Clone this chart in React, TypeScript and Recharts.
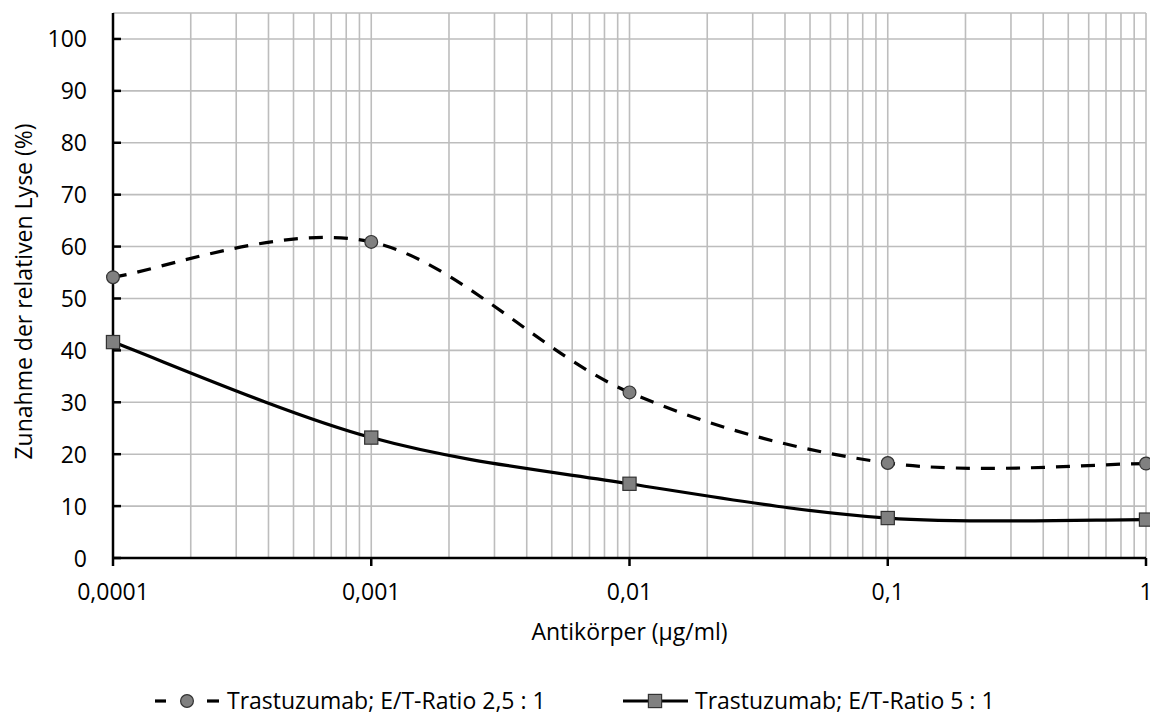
import React from 'react';
import { LineChart, Line, XAxis, YAxis, CartesianGrid, ReferenceLine } from 'recharts';

// ---- data ----
const X_VALUES = [0.0001, 0.001, 0.01, 0.1, 1];
const SERIES_25 = [54.1, 60.9, 31.9, 18.3, 18.2];
const SERIES_5 = [41.6, 23.2, 14.3, 7.7, 7.4];
const SERIES_NAMES = ['Trastuzumab; E/T-Ratio 2,5 : 1', 'Trastuzumab; E/T-Ratio 5 : 1'];
const X_TICKS = [0.0001, 0.001, 0.01, 0.1, 1];
const X_TICK_LABELS = ['0,0001', '0,001', '0,01', '0,1', '1'];
const Y_TICKS = [0, 10, 20, 30, 40, 50, 60, 70, 80, 90, 100];
const DECADES = [0.0001, 0.001, 0.01, 0.1];
const MINOR_STEPS = [1, 2, 3, 4, 5, 6, 7, 8, 9];
const X_TITLE = 'Antikörper (µg/ml)';
const Y_TITLE = 'Zunahme der relativen Lyse (%)';

const data = X_VALUES.map((x, i) => ({ x, a: SERIES_25[i], b: SERIES_5[i] }));
const gridX: number[] = [];
DECADES.forEach((d) => MINOR_STEPS.forEach((m) => { if (!(d === DECADES[0] && m === 1)) gridX.push(d * m); }));
gridX.push(1);

const FONT = '"Open Sans", sans-serif';
const FS = 23;
const TXT = '#000';
const GRID = '#bdbdbd';

// Excel-like smoothing (Catmull-Rom through points)
const excelSmooth: any = (context: any) => {
  let xs: number[] = [];
  let ys: number[] = [];
  return {
    areaStart() {},
    areaEnd() {},
    lineStart() { xs = []; ys = []; },
    point(x: number, y: number) { xs.push(+x); ys.push(+y); },
    lineEnd() {
      const n = xs.length;
      if (n === 0) return;
      context.moveTo(xs[0], ys[0]);
      if (n === 1) return;
      const t = (arr: number[], i: number) => {
        const a = Math.max(0, i - 1);
        const b = Math.min(n - 1, i + 1);
        return (arr[b] - arr[a]) / 2;
      };
      for (let i = 0; i < n - 1; i++) {
        context.bezierCurveTo(
          xs[i] + t(xs, i) / 3, ys[i] + t(ys, i) / 3,
          xs[i + 1] - t(xs, i + 1) / 3, ys[i + 1] - t(ys, i + 1) / 3,
          xs[i + 1], ys[i + 1]
        );
      }
    },
  };
};

const CircleDot = (props: any) => {
  const { cx, cy, index } = props;
  if (cx == null || cy == null) return <g key={`c${index}`} />;
  return <circle key={`c${index}`} cx={cx} cy={cy} r={6.4} fill="#808080" stroke="#333" strokeWidth={1.2} />;
};
const SquareDot = (props: any) => {
  const { cx, cy, index } = props;
  if (cx == null || cy == null) return <g key={`s${index}`} />;
  return <rect key={`s${index}`} x={cx - 6.6} y={cy - 6.6} width={13.2} height={13.2} fill="#808080" stroke="#333" strokeWidth={1.2} />;
};

const XTick = (props: any) => {
  const { x, y, payload } = props;
  const idx = X_TICKS.indexOf(payload.value);
  return (
    <g>
      <line x1={x} x2={x} y1={y} y2={y + 8} stroke="#000" strokeWidth={2.5} />
      <text x={x} y={y + 42} textAnchor="middle" fill={TXT} fontFamily={FONT} fontSize={FS}>
        {idx >= 0 ? X_TICK_LABELS[idx] : String(payload.value)}
      </text>
    </g>
  );
};

const YTick = (props: any) => {
  const { x, y, payload } = props;
  return (
    <g>
      <line x1={x} x2={x + 8} y1={y} y2={y} stroke="#000" strokeWidth={2.5} />
      <text x={x - 26} y={y + 8.5} textAnchor="end" fill={TXT} fontFamily={FONT} fontSize={FS}>
        {payload.value}
      </text>
    </g>
  );
};

const YTitle = (props: any) => {
  const vb = props.viewBox || { x: 0, y: 0, width: 0, height: 0 };
  const cy = vb.y + vb.height / 2 + 6;
  return (
    <text transform={`translate(${vb.x + 24}, ${cy}) rotate(-90)`} x={0} y={0} textAnchor="middle" fill={TXT} fontFamily={FONT} fontSize={FS}>
      {Y_TITLE}
    </text>
  );
};

const XTitle = (props: any) => {
  const vb = props.viewBox || { x: 0, y: 0, width: 0, height: 0 };
  return (
    <text x={vb.x + vb.width / 2} y={vb.y + 82} textAnchor="middle" fill={TXT} fontFamily={FONT} fontSize={FS}>
      {X_TITLE}
    </text>
  );
};

export default function App() {
  return (
    <div style={{ position: 'relative', width: 1150, height: 706 }}>
      <LineChart width={1150} height={706} data={data} margin={{ top: 5, right: 12, left: 0, bottom: 0 }}>
        <CartesianGrid vertical={false} stroke={GRID} strokeWidth={1.6} />
        {gridX.map((v) => (
          <ReferenceLine key={v} x={v} stroke={GRID} strokeWidth={1.6} />
        ))}
        <XAxis
          dataKey="x"
          type="number"
          scale="log"
          domain={[0.0001, 1]}
          ticks={X_TICKS}
          height={156}
          tickSize={0}
          tickMargin={0}
          tickLine={false}
          axisLine={{ stroke: '#000', strokeWidth: 2.5 }}
          tick={<XTick />}
          interval={0}
          label={XTitle}
        />
        <YAxis
          type="number"
          domain={[0, 105]}
          ticks={Y_TICKS}
          width={105}
          tickSize={0}
          tickMargin={0}
          tickLine={false}
          axisLine={{ stroke: '#000', strokeWidth: 2.5 }}
          tick={<YTick />}
          interval={0}
          label={YTitle}
        />
        <Line
          dataKey="a"
          type={excelSmooth}
          stroke="#000"
          strokeWidth={3.2}
          strokeDasharray="14 11"
          dot={CircleDot}
          activeDot={false}
          isAnimationActive={false}
        />
        <Line
          dataKey="b"
          type={excelSmooth}
          stroke="#000"
          strokeWidth={3.2}
          dot={SquareDot}
          activeDot={false}
          isAnimationActive={false}
        />
      </LineChart>
      <svg width={1150} height={40} style={{ position: 'absolute', left: 0, top: 673 }}>
        <line x1={147} x2={158} y1={20} y2={20} stroke="#000" strokeWidth={3.2} />
        <circle cx={179} cy={20} r={6.4} fill="#808080" stroke="#333" strokeWidth={1.2} />
        <line x1={199} x2={211} y1={20} y2={20} stroke="#000" strokeWidth={3.2} />
        <text x={219} y={28} fill={TXT} fontFamily={FONT} fontSize={FS}>{SERIES_NAMES[0]}</text>
        <line x1={615} x2={680} y1={20} y2={20} stroke="#000" strokeWidth={3.2} />
        <rect x={640.4} y={13.4} width={13.2} height={13.2} fill="#808080" stroke="#333" strokeWidth={1.2} />
        <text x={687} y={28} fill={TXT} fontFamily={FONT} fontSize={FS}>{SERIES_NAMES[1]}</text>
      </svg>
    </div>
  );
}
